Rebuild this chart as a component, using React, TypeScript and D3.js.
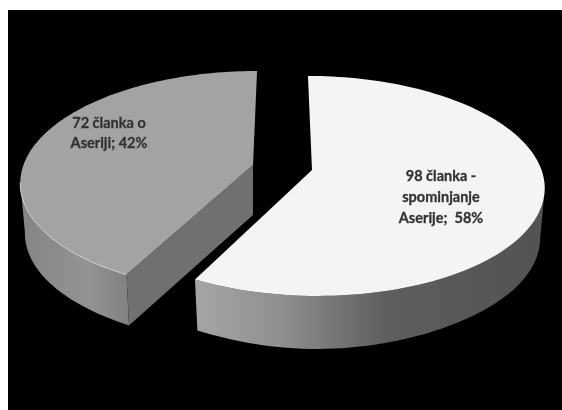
import React from "react";
import * as d3 from "d3";

const categories = ["72 članka o Aseriji; 42%", "98 članka - spominjanje Aserije; 58%"];
const seriesValues = [72, 98];
const labelLinesLeft = ["72 članka o", "Aseriji; 42%"];
const labelLinesRight = ["98 članka -", "spominjanje", "Aserije;  58%"];

const W = 562;
const H = 410;
const A = -0.145; // perspective shift of the pie's centre
const RX = 232;
const RY = 110;
const WALL = 50;

type Slice = { apexX: number; apexY: number; shear: number };
const leftSlice: Slice = { apexX: 253, apexY: 165, shear: -0.043 };
const rightSlice: Slice = { apexX: 312, apexY: 170, shear: 0.043 };

function project(s: Slice, angle: number, r: number, bottom: boolean): [number, number] {
  const u = r * Math.sin(angle);
  const v = -r * Math.cos(angle);
  const d = 1 + A * v;
  const vp = (v + A) / d;
  const up = (u * Math.sqrt(1 - A * A)) / d;
  const y = s.apexY + (vp - A) * RY;
  const inset = bottom ? 0.98 : 1;
  const x = s.apexX + up * RX * inset + s.shear * (y - s.apexY);
  if (!bottom) return [x, y];
  const drop = WALL + 3 * Math.pow(Math.max(0, vp), 8);
  return [x, y + drop];
}

const pieGen = d3.pie<number>().sort(null);
const arcs = pieGen(seriesValues);
const line = d3.line();

function rim(s: Slice, a0: number, a1: number, bottom: boolean) {
  return d3.range(0, 121).map((i) => project(s, a0 + ((a1 - a0) * i) / 120, 1, bottom));
}

// Right slice runs clockwise from 12 o'clock; left slice fills the remainder up to 12 o'clock.
const rightAngles = [0, arcs[1].endAngle - arcs[1].startAngle];
const leftAngles = [rightAngles[1], Math.PI * 2];

const center = (s: Slice) => project(s, 0, 0, false);
const centerB = (s: Slice) => project(s, 0, 0, true);

const rTop = rim(rightSlice, rightAngles[0], rightAngles[1], false);
const rBot = rim(rightSlice, rightAngles[0], rightAngles[1], true);
const lTop = rim(leftSlice, leftAngles[0], leftAngles[1], false);
const lBot = rim(leftSlice, leftAngles[0], leftAngles[1], true);

// Only the front-facing part of each rim is visible: cut at the horizontal extreme.
const rCut = d3.greatestIndex(rTop, (p) => p[0]);
const lCut = d3.leastIndex(lTop, (p) => p[0]);

const rightTopPath = line([center(rightSlice), ...rTop])! + "Z";
const leftTopPath = line([center(leftSlice), ...lTop])! + "Z";
const rightWallPath = line([...rTop.slice(rCut), ...rBot.slice(rCut).reverse()])! + "Z";
const leftWallPath = line([...lTop.slice(0, lCut + 1), ...lBot.slice(0, lCut + 1).reverse()])! + "Z";
const leftCutPath =
  line([lTop[0], center(leftSlice), centerB(leftSlice), lBot[0]])! + "Z";
const leftRimPath = line(lTop.slice(0, lCut + 1))!;

export default function App() {
  const font = "Lato, 'Open Sans', sans-serif";
  return (
    <svg
      width={W}
      height={H}
      viewBox={`0 0 ${W} ${H}`}
      style={{ position: "absolute", left: 0, top: 0, display: "block" }}
      role="img"
      aria-label={categories.join(", ")}
    >
      <defs>
        <linearGradient id="wallR" gradientUnits="userSpaceOnUse" x1={193} x2={545} y1={0} y2={0}>
          <stop offset="0" stopColor="#a6a6a6" />
          <stop offset="0.25" stopColor="#8f8f8f" />
          <stop offset="0.55" stopColor="#5e5e5e" />
          <stop offset="1" stopColor="#525252" />
        </linearGradient>
        <linearGradient id="wallL" gradientUnits="userSpaceOnUse" x1={22} x2={134} y1={0} y2={0}>
          <stop offset="0" stopColor="#858585" />
          <stop offset="0.6" stopColor="#939393" />
          <stop offset="1" stopColor="#7e7e7e" />
        </linearGradient>
        <filter id="soft" x="-5%" y="-5%" width="110%" height="110%">
          <feGaussianBlur stdDeviation="0.5" />
        </filter>
        <filter id="softText" x="-5%" y="-20%" width="110%" height="140%">
          <feGaussianBlur stdDeviation="0.35" />
        </filter>
      </defs>
      <rect width={W} height={H} fill="#ffffff" />
      <rect x={8} y={10} width={W - 8} height={H - 10} fill="#000000" />
      <g filter="url(#soft)">
        <path d={leftWallPath} fill="url(#wallL)" />
        <path d={leftCutPath} fill="#6f6f6f" />
        <path d={leftTopPath} fill="#a3a3a3" />
        <path d={leftRimPath} fill="none" stroke="#d8d8d8" strokeWidth={1} />
        <path d={rightWallPath} fill="url(#wallR)" />
        <path d={rightTopPath} fill="#f4f4f4" />
      </g>
      <g
        filter="url(#softText)"
        fontFamily={font}
        fontWeight={700}
        fontSize={14.5}
        fill="#333333"
        stroke="#333333"
        strokeWidth={0.3}
        textAnchor="middle"
      >
        {labelLinesLeft.map((t, i) => (
          <text key={t} x={109} y={128 + i * 20}>
            {t}
          </text>
        ))}
        {labelLinesRight.map((t, i) => (
          <text key={t} x={441} y={181 + i * 21} xmlSpace="preserve">
            {t}
          </text>
        ))}
      </g>
    </svg>
  );
}
